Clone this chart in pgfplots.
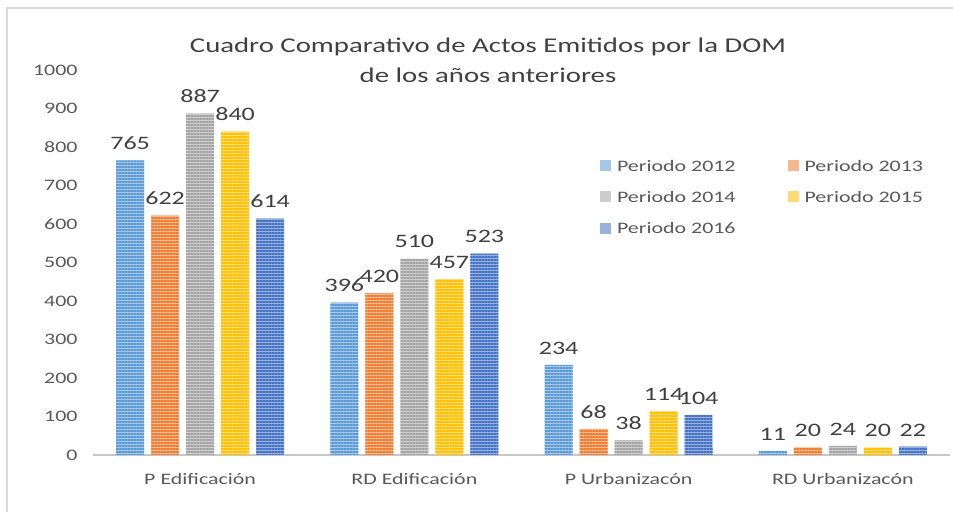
\documentclass[border=0pt]{standalone}
\usepackage{pgfplots}
\pgfplotsset{compat=1.18}
\usepackage{fontspec}
\setmainfont{Carlito}[FakeStretch=1.37]
\usetikzlibrary{patterns.meta}
\definecolor{cA}{HTML}{5B9BD5}
\definecolor{cB}{HTML}{ED7D31}
\definecolor{cC}{HTML}{A5A5A5}
\definecolor{cD}{HTML}{FFC000}
\definecolor{cE}{HTML}{4472C4}
\definecolor{txt}{HTML}{595959}
\definecolor{lbl}{HTML}{404040}
\definecolor{frame}{HTML}{D9D9D9}
\tikzset{
  basebar/.style={draw=none, fill=#1!55!white},
  stripes/.style={draw=none, pattern={Lines[angle=0,distance=3bp,line width=1.3bp]}, pattern color=#1},
}
\pgfplotstableread{
x a b c d e
0 765 622 887 840 614
1 396 420 510 457 523
2 234 68 38 114 104
3 11 20 24 20 22
}\data
\begin{document}
\begin{tikzpicture}
\path[use as bounding box] (0,0) rectangle (953bp,512bp);
\draw[frame, line width=1.5bp] (7bp,0) -- (7bp,504bp) -- (953bp,504bp);
\node[align=center, text=lbl, font=\fontsize{21bp}{30bp}\selectfont] at (488bp,452bp)
  {Cuadro Comparativo de Actos Emitidos por la DOM\\de los años anteriores};
\begin{axis}[
  at={(93bp,57bp)}, anchor=south west,
  scale only axis, width=857bp, height=385bp,
  xmin=-0.5, xmax=3.5, ymin=0, ymax=1000,
  ybar, bar width=28bp,
  axis x line*=bottom, axis y line*=left,
  x axis line style={draw=frame!80!gray, line width=2bp},
  y axis line style={draw=none},
  xtick={0,1,2,3},
  xticklabels={P Edificación, RD Edificación, P Urbanizacón, RD Urbanizacón},
  ytick={0,100,...,1000},
  major tick length=0pt,
  /pgf/number format/assume math mode=true,
  /pgf/number format/1000 sep={},
  tick label style={text=txt, font=\fontsize{16bp}{19bp}\selectfont},
  xticklabel style={yshift=-15bp},
  yticklabel style={xshift=-12bp},
  every node near coord/.append style={text=lbl, font=\fontsize{19bp}{22bp}\selectfont, yshift=7bp},
  legend style={at={(0.588,0.777)}, anchor=north west, draw=none, fill=none,
    legend columns=2, font=\fontsize{16bp}{19bp}\selectfont, text=txt,
    /tikz/every even column/.append style={column sep=50bp}, row sep=14.5bp},
  legend image code/.code={\path[#1] (0bp,-5bp) rectangle (11bp,6bp); \path (0bp,0bp) -- (15bp,0bp);},
]
\addplot[basebar=cA, bar shift=-70bp, nodes near coords] table[y=a] {\data};
\addplot[basebar=cB, bar shift=-35bp, nodes near coords] table[y=b] {\data};
\addplot[basebar=cC, bar shift=0bp, nodes near coords] table[y=c] {\data};
\addplot[basebar=cD, bar shift=35bp, nodes near coords] table[y=d] {\data};
\addplot[basebar=cE, bar shift=70bp, nodes near coords] table[y=e] {\data};
\legend{Periodo 2012, Periodo 2013, Periodo 2014, Periodo 2015, Periodo 2016}
\addplot[forget plot, stripes=cA, bar shift=-70bp] table[y=a] {\data};
\addplot[forget plot, stripes=cB, bar shift=-35bp] table[y=b] {\data};
\addplot[forget plot, stripes=cC, bar shift=0bp] table[y=c] {\data};
\addplot[forget plot, stripes=cD, bar shift=35bp] table[y=d] {\data};
\addplot[forget plot, stripes=cE, bar shift=70bp] table[y=e] {\data};
\end{axis}
\end{tikzpicture}
\end{document}
